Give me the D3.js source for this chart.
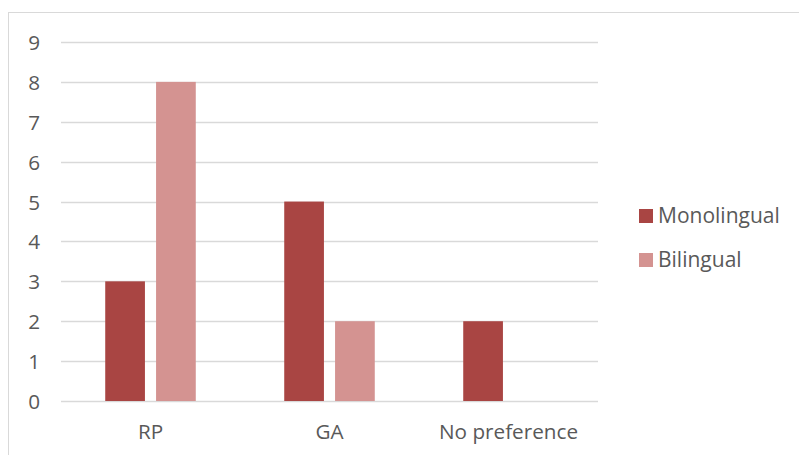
<!DOCTYPE html>
<html>
<head>
<meta charset="utf-8">
<script src="https://cdn.jsdelivr.net/npm/d3@7"></script>
<style>
  html, body { margin: 0; padding: 0; background: #fff; }
  svg { display: block; }
  text { font-family: "Open Sans", "Noto Sans", sans-serif; fill: #595959; }
</style>
</head>
<body>
<svg id="chart" width="799" height="455"></svg>
<script>
// Preferred accent counts by speaker group
const categories = ["RP", "GA", "No preference"];
const seriesNames = ["Monolingual", "Bilingual"];
const monolingual = [3, 5, 2];
const bilingual = [8, 2, 0];
const yTicks = [0, 1, 2, 3, 4, 5, 6, 7, 8, 9];
const colors = ["#A94543", "#D49391"];

const svg = d3.select("#chart");
const fontSize = 20.7;

// Chart frame
svg.append("rect")
  .attr("x", 8.5).attr("y", 12.5)
  .attr("width", 800).attr("height", 460)
  .attr("fill", "#fff").attr("stroke", "#d9d9d9").attr("stroke-width", 1);

const plot = { left: 61, right: 598, top: 42, bottom: 401 };

const x0 = d3.scaleBand()
  .domain(categories)
  .range([plot.left, plot.right])
  .paddingInner(0)
  .paddingOuter(0);

const x1 = d3.scaleBand()
  .domain(seriesNames)
  .range([0, x0.bandwidth()])
  .paddingInner(0.219)
  .paddingOuter(0.87);

const y = d3.scaleLinear().domain([0, 9]).range([plot.bottom, plot.top]);

// Gridlines
svg.append("g")
  .selectAll("line")
  .data(yTicks)
  .join("line")
  .attr("x1", plot.left).attr("x2", plot.right)
  .attr("y1", d => Math.round(y(d)) + 0.5)
  .attr("y2", d => Math.round(y(d)) + 0.5)
  .attr("stroke", "#d9d9d9").attr("stroke-width", 1.3);

// Y axis tick labels
const yAxis = d3.axisLeft(y).tickValues(yTicks).tickSize(0).tickPadding(0).tickFormat(d3.format("d"));
const gy = svg.append("g").attr("transform", `translate(${40},0)`).call(yAxis);
gy.select(".domain").remove();
gy.selectAll("text")
  .attr("font-size", fontSize)
  .attr("font-family", "'Open Sans', 'Noto Sans', sans-serif")
  .attr("fill", "#595959")
  .attr("dy", "0.36em");

// X axis category labels
const xAxis = d3.axisBottom(x0).tickSize(0).tickPadding(0);
const gx = svg.append("g").attr("transform", `translate(0,${plot.bottom})`).call(xAxis);
gx.select(".domain").remove();
gx.selectAll("text")
  .attr("font-size", fontSize)
  .attr("font-family", "'Open Sans', 'Noto Sans', sans-serif")
  .attr("fill", "#595959")
  .attr("dy", "1.83em");

// Bars
const rows = categories.map((c, i) => ({
  category: c,
  values: [
    { series: seriesNames[0], value: monolingual[i] },
    { series: seriesNames[1], value: bilingual[i] }
  ]
}));

svg.append("g")
  .selectAll("g")
  .data(rows)
  .join("g")
  .attr("transform", d => `translate(${x0(d.category)},0)`)
  .selectAll("rect")
  .data(d => d.values.filter(v => v.value > 0))
  .join("rect")
  .attr("x", d => x1(d.series))
  .attr("width", x1.bandwidth())
  .attr("y", d => y(d.value))
  .attr("height", d => y(0) - y(d.value))
  .attr("fill", d => colors[seriesNames.indexOf(d.series)]);

// Legend
const legend = svg.append("g").attr("transform", "translate(639,209)");
const items = legend.selectAll("g")
  .data(seriesNames)
  .join("g")
  .attr("transform", (d, i) => `translate(0,${i * 44})`);
items.append("rect")
  .attr("width", 14).attr("height", 14)
  .attr("fill", (d, i) => colors[i]);
items.append("text")
  .attr("x", 19).attr("y", 13.5)
  .attr("font-size", 21)
  .text(d => d);
</script>
</body>
</html>
